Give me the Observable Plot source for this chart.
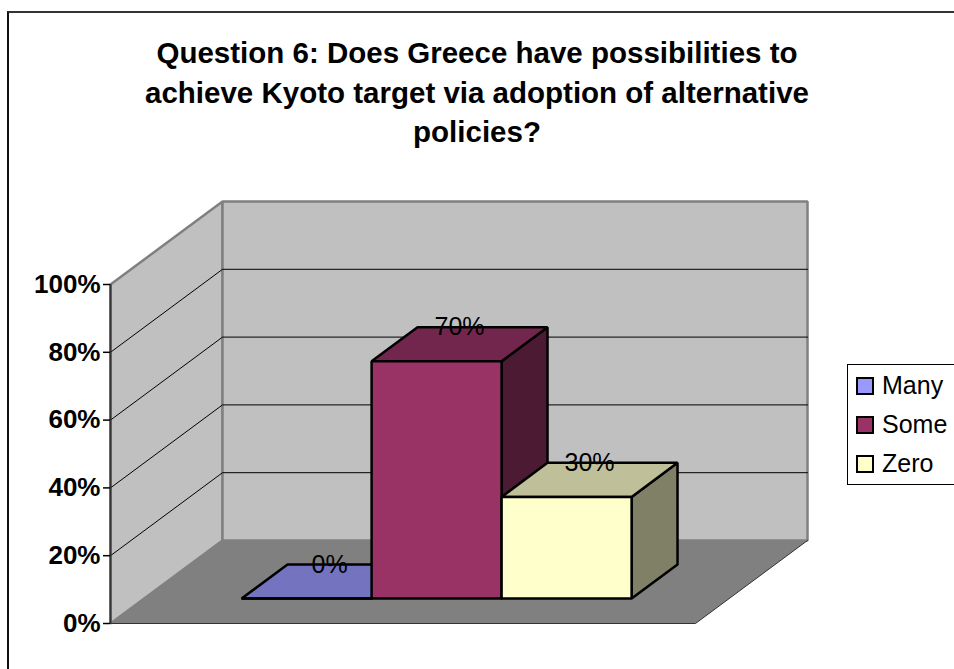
<!DOCTYPE html>
<html>
<head>
<meta charset="utf-8">
<script src="https://cdn.jsdelivr.net/npm/d3@7"></script>
<script src="https://cdn.jsdelivr.net/npm/@observablehq/plot@0.6"></script>
<style>
html, body { margin: 0; padding: 0; background: #fff; width: 954px; height: 669px; overflow: hidden; }
#frame { position: absolute; left: 7px; top: 11px; width: 980px; height: 720px; border-left: 2px solid #111; border-top: 2px solid #333; box-sizing: border-box; pointer-events: none; }
#title { position: absolute; left: 0; top: 33px; width: 954px; text-align: center; font: bold 29.5px/39.5px "Liberation Sans", Arial, sans-serif; color: #000; }
#chart { position: absolute; left: 0; top: 170px; }
#legend { position: absolute; left: 847px; top: 364px; width: 130px; height: 121px; border: 1px solid #000; box-sizing: border-box; background: #fff; font: 25px "Liberation Sans", Arial, sans-serif; }
.item { position: absolute; left: 0; height: 39px; display: flex; align-items: center; white-space: nowrap; }
.sw { width: 14px; height: 14px; border: 2px solid #000; margin-left: 8px; margin-right: 8px; }
</style>
</head>
<body>
<div id="frame"></div>
<div id="title">Question 6: Does Greece have possibilities to<br>achieve Kyoto target via adoption of alternative<br>policies?</div>
<div id="chart"></div>
<div id="legend"></div>
<script>
// ---- data ----
const series = ["Many", "Some", "Zero"];
const values = [0.00, 0.70, 0.30];
const frontColors = ["#9999FF", "#993366", "#FFFFCC"];
const topColors = ["#7373BF", "#73264D", "#BFBF99"];
const sideColors = ["#4D4D80", "#4D1A33", "#808066"];
const yTicks = [0, 0.2, 0.4, 0.6, 0.8, 1.0];
const gridValues = [0.2, 0.4, 0.6, 0.8];

// ---- oblique 3D projection (layout constants) ----
const DX = 112 / 585;   // depth offset in category units
const DY = 83 / 339;    // depth offset in value units
const D0 = 0.30, D1 = 0.71;  // bar depth extent
const GAP = 1 / 6, BW = 2 / 9;
const P = (u, v, d) => ({x: u + d * DX, y: v + d * DY});

function poly(id, pts, extra) {
  return pts.map((p, k) => ({...p, id, k, ...extra}));
}

const walls = [
  ...poly("left", [P(0,0,0), P(0,1,0), P(0,1,1), P(0,0,1)], {fill: "#C0C0C0"}),
  ...poly("back", [P(0,0,1), P(0,1,1), P(1,1,1), P(1,0,1)], {fill: "#C0C0C0"})
];
const floor = poly("floor", [P(0,0,0), P(1,0,0), P(1,0,1), P(0,0,1)], {fill: "#808080"});
const floorEdge = [P(0,0,0), P(1,0,0), P(1,0,1)];

const grid = gridValues.flatMap(v =>
  [P(0, v, 0), P(0, v, 1), P(1, v, 1)].map(p => ({...p, v})));

const bars = series.flatMap((s, i) => {
  const u0 = GAP + i * BW, u1 = u0 + BW, v = values[i];
  return [
    ...poly(s + "-side", [P(u1,0,D0), P(u1,v,D0), P(u1,v,D1), P(u1,0,D1)], {fill: sideColors[i]}),
    ...poly(s + "-top", [P(u0,v,D0), P(u0,v,D1), P(u1,v,D1), P(u1,v,D0)], {fill: topColors[i]}),
    ...poly(s + "-front", [P(u0,0,D0), P(u0,v,D0), P(u1,v,D0), P(u1,0,D0)], {fill: frontColors[i]})
  ];
});

const labels = series.map((s, i) => {
  const uc = GAP + i * BW + BW / 2;
  return {x: uc + ((D0 + D1) / 2) * DX, y: values[i] + D1 * DY, text: d3.format(".0%")(values[i])};
});

const chart = Plot.plot({
  width: 954,
  height: 499,
  marginLeft: 110,
  marginRight: 147,
  marginTop: 31,
  marginBottom: 46,
  style: {fontFamily: "'Liberation Sans', Arial, sans-serif", background: "transparent", overflow: "visible"},
  x: {domain: [0, 1 + DX], axis: null},
  y: {domain: [0, 1 + DY], label: null},
  color: {type: "identity"},
  marks: [
    Plot.line(walls, {x: "x", y: "y", z: "id", fill: "fill", stroke: "#808080", strokeWidth: 2.5, curve: "linear-closed", strokeLinejoin: "miter"}),
    Plot.line(floor, {x: "x", y: "y", z: "id", fill: "fill", stroke: "none", curve: "linear-closed"}),
    Plot.line(floorEdge, {x: "x", y: "y", stroke: "#333", strokeWidth: 1}),
    Plot.line(grid, {x: "x", y: "y", z: "v", stroke: "#000", strokeWidth: 1}),
    Plot.ruleX([0], {y1: 0, y2: 1, stroke: "#333", strokeWidth: 2}),
    Plot.axisY(yTicks, {tickFormat: d3.format(".0%"), tickSize: 7, tickPadding: 3, fontSize: 26, fontWeight: "bold", color: "#000", strokeWidth: 1.5, label: null}),
    Plot.line(bars, {x: "x", y: "y", z: "id", fill: "fill", stroke: "#000", strokeWidth: 2.5, curve: "linear-closed", strokeLinejoin: "miter"}),
    Plot.text(labels, {x: "x", y: "y", text: "text", fontSize: 25, fill: "#000"})
  ]
});
document.getElementById("chart").appendChild(chart);

// legend
const legend = document.getElementById("legend");
series.forEach((s, i) => {
  const item = document.createElement("div");
  item.className = "item";
  item.style.top = (1 + i * 39) + "px";
  const sw = document.createElement("span");
  sw.className = "sw";
  sw.style.background = frontColors[i];
  const t = document.createElement("span");
  t.textContent = s;
  item.appendChild(sw);
  item.appendChild(t);
  legend.appendChild(item);
});
</script>
</body>
</html>
